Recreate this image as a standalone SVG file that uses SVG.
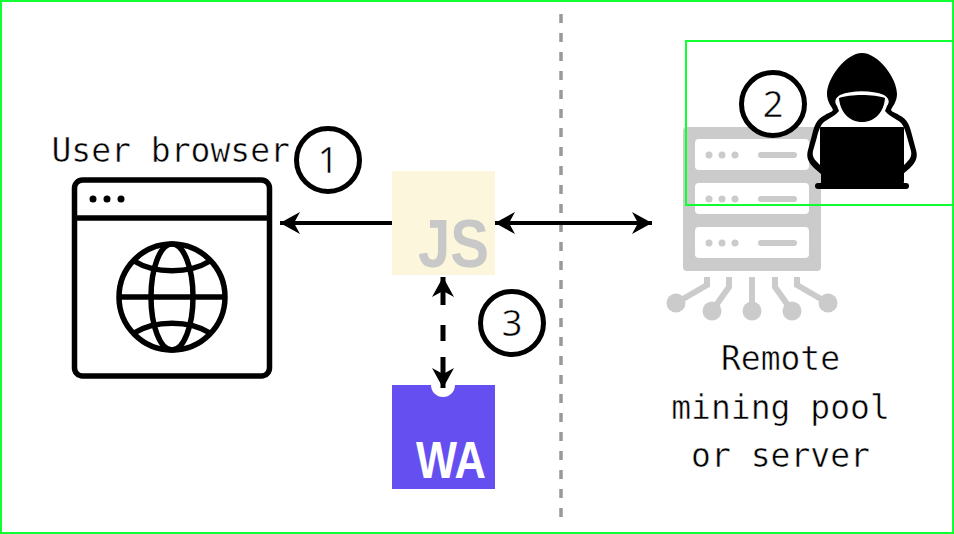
<svg xmlns="http://www.w3.org/2000/svg" width="954" height="534" viewBox="0 0 954 534">
<style>
.lbl{font-family:"DejaVu Sans Mono","Liberation Mono",monospace;font-size:33px;fill:#000;stroke:#fff;stroke-width:.5px}
.num{font-family:"Open Sans","Liberation Sans",sans-serif;font-size:36px;font-weight:400;fill:#000;text-anchor:middle;stroke:#fff;stroke-width:.4px}
.ring{fill:#fff;stroke:#000;stroke-width:5}
.ink{fill:none;stroke:#000;stroke-width:5.5}
.srv{fill:#cbcbcb}
.slot{fill:#fff}
.pin{fill:none;stroke:#cbcbcb;stroke-width:6}
.frame{fill:none;stroke:#11ff33;stroke-width:2}
.link{fill:none;stroke:#000;stroke-width:4}
.badge{font-family:"Liberation Sans",Arial,sans-serif;font-weight:700}
</style>
<defs>
<marker id="arrow" viewBox="0 0 20 22" refX="20" refY="11" markerWidth="20" markerHeight="22" markerUnits="userSpaceOnUse" orient="auto-start-reverse">
<path d="M20 11 L0 0 L6 11 L0 22 Z" fill="#000"/>
</marker>
<g id="slotshape">
<rect x="695" y="139" width="114" height="31" rx="4" class="slot"/>
<circle cx="709" cy="155" r="3.5" class="srv"/><circle cx="722" cy="155" r="3.5" class="srv"/><circle cx="735" cy="155" r="3.5" class="srv"/>
<rect x="758" y="152" width="39" height="6" rx="3" class="srv"/>
</g>
</defs>
<rect width="954" height="534" fill="#fff"/>
<g id="divider"><line x1="561" y1="14" x2="561" y2="522" stroke="#999" stroke-width="3.5" stroke-dasharray="9 10"/></g>
<g id="server">
<rect x="683" y="127" width="138" height="144" rx="4" class="srv"/>
<use href="#slotshape"/><use href="#slotshape" y="44"/><use href="#slotshape" y="88"/>
<path class="pin" d="M707 277V285L676 303M729 277V287L712 311M752 277V311M775 277V287L792 311M797 277V285L828 303"/>
<circle cx="676" cy="303" r="9.5" class="srv"/><circle cx="712" cy="311" r="9.5" class="srv"/><circle cx="752" cy="311" r="9.5" class="srv"/><circle cx="792" cy="311" r="9.5" class="srv"/><circle cx="828" cy="303" r="9.5" class="srv"/>
<text class="lbl" x="780.5" y="370" text-anchor="middle">Remote</text>
<text class="lbl" x="780.5" y="419" text-anchor="middle">mining pool</text>
<text class="lbl" x="780.5" y="467" text-anchor="middle">or server</text>
</g>
<g id="attacker">
<path d="M862 53C846 53 827 78 827 94C827 102 832 107 833 110C831 113 829 112 825 115C816 119 814 127 812 135L808 150C806 157 808 162 814 168L821 174V187H903V174L910 168C916 162 918 157 916 150L912 135C910 127 908 119 899 115C895 112 893 113 891 110C892 107 897 102 897 94C897 78 878 53 862 53Z" fill="#000"/>
<path d="M840 95C852 90 872 90 884 95C889 98 890 102 887 106L885 111C888 115 893 117 897 120C903 123 905 129 907 137L911 151C912 156 910 159 907 162L904 165V127H820V165L817 162C814 159 812 156 813 151L817 137C819 129 821 123 827 120C831 117 836 115 839 111L837 106C834 102 835 98 840 95Z" fill="#fff"/>
<path d="M839 98C850 94 874 94 885 98C884 112 875 122 862 122C849 122 840 112 839 98Z" fill="#000"/>
<rect x="821" y="127" width="83" height="58" rx="4" fill="#000"/>
<rect x="815" y="183" width="94" height="6" rx="3" fill="#000"/>
</g>
<g id="browser">
<text class="lbl" x="51.5" y="162">User browser</text>
<rect x="74.5" y="180" width="195" height="196" rx="8" class="ink"/>
<line x1="74" y1="218" x2="270" y2="218" class="ink"/>
<circle cx="93" cy="199" r="3.5"/><circle cx="107" cy="199" r="3.5"/><circle cx="121" cy="199" r="3.5"/>
<circle cx="172" cy="297" r="53" class="ink"/>
<ellipse cx="172" cy="297" rx="21" ry="53" class="ink"/>
<line x1="119" y1="297" x2="225" y2="297" class="ink"/>
<path class="ink" d="M134 261C155 274 189 274 210 261M134 333C155 320 189 320 210 333"/>
</g>
<g id="js">
<rect x="392" y="171" width="103" height="104" fill="#fbf6dc"/>
<text class="badge" x="418" y="267" font-size="68" fill="#c8c8c8" textLength="71" lengthAdjust="spacingAndGlyphs">JS</text>
</g>
<g id="wa">
<rect x="392" y="385" width="103" height="104" fill="#654ff0"/>
<circle cx="443" cy="385" r="12" fill="#fff"/>
<text class="badge" x="416" y="478" font-size="52" fill="#fff" textLength="70" lengthAdjust="spacingAndGlyphs">WA</text>
</g>
<g id="connectors">
<line class="link" x1="392" y1="223" x2="280" y2="223" marker-end="url(#arrow)"/>
<line class="link" x1="495" y1="223" x2="652" y2="223" marker-start="url(#arrow)" marker-end="url(#arrow)"/>
<line class="link" x1="443" y1="277" x2="443" y2="388" style="stroke-width:5" stroke-dasharray="28 20 16 16 60" marker-start="url(#arrow)" marker-end="url(#arrow)"/>
</g>
<g id="step1"><circle cx="328" cy="160" r="31.5" class="ring"/><text class="num" x="328" y="173">1</text></g>
<g id="step2"><circle cx="773" cy="104" r="31.5" class="ring"/><text class="num" x="773" y="117">2</text></g>
<g id="step3"><circle cx="512" cy="323" r="31.5" class="ring"/><text class="num" x="512" y="336">3</text></g>
<g id="frames">
<rect x="1" y="1" width="952" height="532" class="frame"/>
<rect x="686" y="41" width="268" height="164" class="frame"/>
</g>
</svg>
